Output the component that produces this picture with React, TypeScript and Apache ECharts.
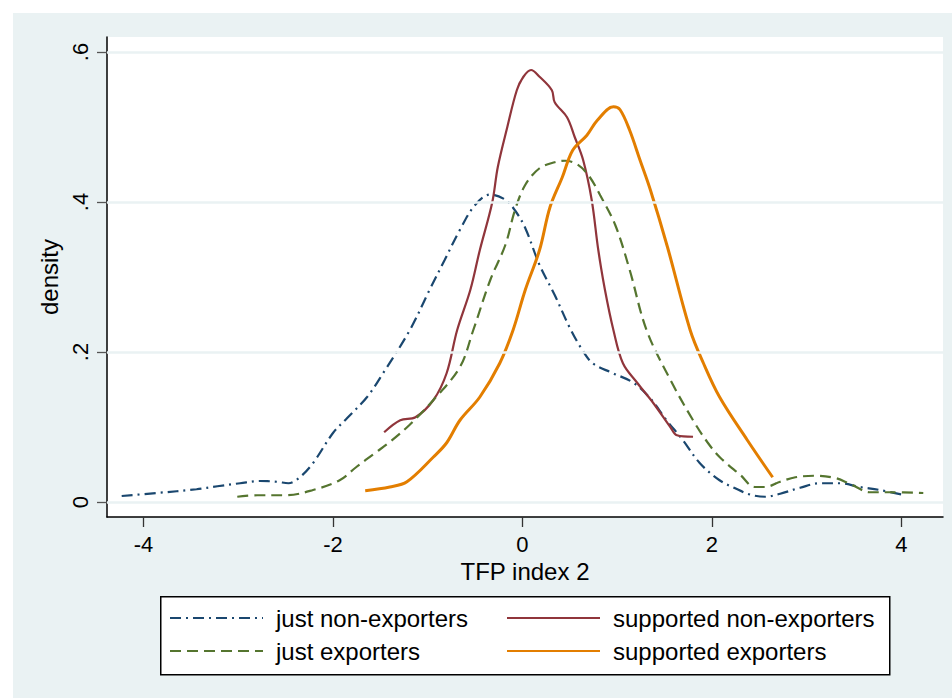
import React, { useEffect, useRef } from "react";
import * as echarts from "echarts";

// ---- data ----
const seriesNames = [
  "just non-exporters",
  "supported non-exporters",
  "just exporters",
  "supported exporters",
];

const justNonExporters: [number, number][] = [
  [-4.23, 0.008], [-3.86, 0.012], [-3.44, 0.017], [-3.22, 0.021], [-2.98, 0.025],
  [-2.77, 0.028], [-2.59, 0.027], [-2.47, 0.025], [-2.35, 0.033], [-2.21, 0.052],
  [-2.0, 0.092], [-1.85, 0.112], [-1.64, 0.14], [-1.47, 0.172], [-1.19, 0.229],
  [-0.98, 0.283], [-0.82, 0.323], [-0.66, 0.363], [-0.5, 0.396], [-0.34, 0.41],
  [-0.18, 0.403], [-0.08, 0.389], [0.03, 0.365], [0.18, 0.316], [0.34, 0.276],
  [0.5, 0.232], [0.62, 0.205], [0.74, 0.185], [0.95, 0.172], [1.17, 0.159],
  [1.35, 0.138], [1.52, 0.109], [1.69, 0.083], [1.87, 0.052], [2.08, 0.029],
  [2.25, 0.018], [2.4, 0.01], [2.56, 0.007], [2.72, 0.011], [2.93, 0.019],
  [3.14, 0.025], [3.35, 0.025], [3.56, 0.02], [3.77, 0.016], [4.04, 0.009],
];

const justExporters: [number, number][] = [
  [-3.01, 0.007], [-2.8, 0.009], [-2.49, 0.009], [-2.21, 0.016], [-1.93, 0.029],
  [-1.75, 0.047], [-1.56, 0.065], [-1.4, 0.08], [-1.19, 0.103], [-0.94, 0.136],
  [-0.66, 0.18], [-0.52, 0.229], [-0.34, 0.296], [-0.18, 0.343], [-0.08, 0.389],
  [0.03, 0.423], [0.18, 0.445], [0.34, 0.453], [0.45, 0.455], [0.58, 0.45],
  [0.7, 0.435], [0.82, 0.409], [0.98, 0.369], [1.13, 0.31], [1.31, 0.229],
  [1.56, 0.163], [1.8, 0.109], [1.95, 0.08], [2.08, 0.06], [2.3, 0.036],
  [2.45, 0.02], [2.56, 0.02], [2.72, 0.027], [2.88, 0.033], [3.09, 0.035],
  [3.3, 0.032], [3.46, 0.024], [3.67, 0.013], [3.88, 0.013], [4.23, 0.012],
];

const supportedNonExporters: [number, number][] = [
  [-1.46, 0.093], [-1.29, 0.109], [-1.13, 0.113], [-0.94, 0.136], [-0.8, 0.172],
  [-0.69, 0.229], [-0.55, 0.283], [-0.45, 0.336], [-0.32, 0.399], [-0.26, 0.447],
  [-0.16, 0.5], [-0.06, 0.549], [0.01, 0.567], [0.09, 0.576], [0.18, 0.567],
  [0.31, 0.549], [0.34, 0.533], [0.47, 0.513], [0.55, 0.487], [0.64, 0.456],
  [0.73, 0.403], [0.8, 0.336], [0.87, 0.283], [0.96, 0.229], [1.06, 0.185],
  [1.21, 0.159], [1.38, 0.132], [1.56, 0.1], [1.63, 0.089], [1.8, 0.087],
];

const supportedExporters: [number, number][] = [
  [-1.66, 0.015], [-1.4, 0.02], [-1.22, 0.027], [-0.94, 0.06], [-0.8, 0.079],
  [-0.66, 0.109], [-0.45, 0.14], [-0.24, 0.185], [-0.1, 0.229], [0.03, 0.283],
  [0.18, 0.336], [0.29, 0.393], [0.42, 0.433], [0.53, 0.469], [0.68, 0.489],
  [0.79, 0.509], [0.96, 0.527], [1.03, 0.523], [1.13, 0.496], [1.24, 0.456],
  [1.35, 0.416], [1.53, 0.34], [1.77, 0.229], [1.91, 0.185], [2.08, 0.14],
  [2.37, 0.083], [2.64, 0.033],
];

const xTicks = [-4, -2, 0, 2, 4];
const yTicks = [0, 0.2, 0.4, 0.6];

const FONT = "'Liberation Sans', Arial, Helvetica, sans-serif";
const BG = "#EAF2F3";

export default function App() {
  const ref = useRef<HTMLDivElement>(null);

  useEffect(() => {
    if (!ref.current) return;
    const chart = echarts.init(ref.current, undefined, { renderer: "svg" });

    const lineBase = {
      type: "line" as const,
      showSymbol: false,
      symbol: "none",
      smooth: 0.35,
      z: 3,
    };

    const legendBase = {
      orient: "vertical",
      top: 592,
      padding: 0,
      itemWidth: 93,
      itemHeight: 14,
      itemGap: 7,
      selectedMode: false,
      itemStyle: { opacity: 0, color: "transparent", borderWidth: 0 },
      textStyle: { fontSize: 24, color: "#000", fontFamily: FONT, lineHeight: 26, padding: [0, 0, 0, 8] },
    };

    const option: any = {
      animation: false,
      backgroundColor: BG,
      textStyle: { fontFamily: FONT },
      grid: {
        left: 94,
        top: 24,
        right: 9,
        bottom: 181,
        show: true,
        backgroundColor: "#ffffff",
        borderWidth: 0,
      },
      xAxis: {
        type: "value",
        min: -4.385,
        max: 4.438,
        name: "TFP index 2",
        nameLocation: "middle",
        nameGap: 36,
        nameTextStyle: { fontSize: 24, color: "#000", fontFamily: FONT },
        axisLine: { show: true, onZero: false, lineStyle: { color: "#000", width: 1.5 } },
        axisTick: { show: true, length: 10, customValues: xTicks, lineStyle: { color: "#333", width: 1.3 } },
        axisLabel: {
          customValues: xTicks,
          fontSize: 22,
          color: "#000",
          fontFamily: FONT,
          margin: 16,
          formatter: (v: number) => String(v),
        },
        splitLine: { show: false },
      },
      yAxis: {
        type: "value",
        min: -0.02,
        max: 0.62,
        name: "density",
        nameLocation: "middle",
        nameGap: 41,
        nameRotate: 90,
        nameTextStyle: { fontSize: 24, color: "#000", fontFamily: FONT },
        axisLine: { show: true, onZero: false, lineStyle: { color: "#000", width: 1.5 } },
        axisTick: { show: true, length: 10, customValues: yTicks, lineStyle: { color: "#555", width: 1.3 } },
        axisLabel: {
          customValues: yTicks,
          rotate: 90,
          fontSize: 22,
          color: "#000",
          fontFamily: FONT,
          margin: 16,
          formatter: (v: number) => (Math.abs(v) < 1e-9 ? "0" : String(Math.round(v * 10) / 10).replace(/^0\./, ".")),
        },
        splitLine: { show: false },
      },
      legend: [
        { ...legendBase, data: [seriesNames[0], seriesNames[2]], left: 156 },
        { ...legendBase, data: [seriesNames[1], seriesNames[3]], left: 493 },
      ],
      graphic: [
        {
          type: "rect",
          left: 147,
          top: 583,
          shape: { width: 729, height: 78 },
          style: { fill: "#ffffff", stroke: "#000", lineWidth: 1.5 },
          z: 1,
        },
      ],
      series: [
        {
          type: "line",
          name: "__grid",
          data: [],
          silent: true,
          z: 1,
          markLine: {
            silent: true,
            symbol: "none",
            label: { show: false },
            lineStyle: { color: BG, width: 2.5, type: "solid" },
            data: yTicks.map((v) => ({ yAxis: v })),
          },
        },
        {
          ...lineBase,
          name: seriesNames[0],
          data: justNonExporters,
          color: "#1A476F",
          lineStyle: { color: "#1A476F", width: 2.2, type: [11, 5, 2, 5] },
        },
        {
          ...lineBase,
          name: seriesNames[1],
          data: supportedNonExporters,
          color: "#90353B",
          lineStyle: { color: "#90353B", width: 2.2, type: "solid" },
        },
        {
          ...lineBase,
          name: seriesNames[2],
          data: justExporters,
          color: "#55752F",
          lineStyle: { color: "#55752F", width: 2.2, type: [11, 6] },
        },
        {
          ...lineBase,
          name: seriesNames[3],
          data: supportedExporters,
          color: "#E37E00",
          lineStyle: { color: "#E37E00", width: 3, type: "solid" },
        },
      ],
    };

    chart.setOption(option);
    return () => chart.dispose();
  }, []);

  return (
    <div
      ref={ref}
      style={{ position: "fixed", left: 13, top: 13, width: 939, height: 685 }}
    />
  );
}
